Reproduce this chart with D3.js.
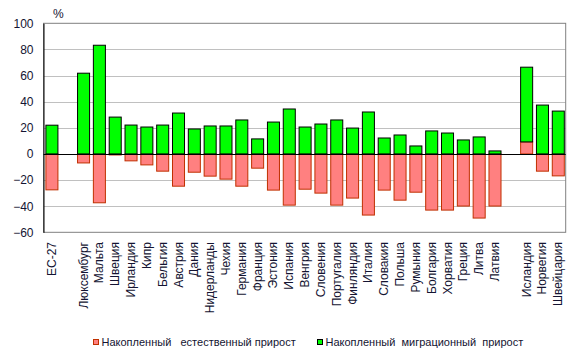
<!DOCTYPE html>
<html><head><meta charset="utf-8">
<script src="https://cdn.jsdelivr.net/npm/d3@7"></script>
<style>body{margin:0;background:#fff;} text{font-family:"Liberation Sans",Arial,sans-serif;}</style>
</head><body>
<svg id="c" width="578" height="355"></svg>
<script>
const categories = ["ЕС-27","","Люксембург","Мальта","Швеция","Ирландия","Кипр","Бельгия","Австрия","Дания","Нидерланды","Чехия","Германия","Франция","Эстония","Испания","Венгрия","Словения","Португалия","Финляндия","Италия","Словакия","Польша","Румыния","Болгария","Хорватия","Греция","Литва","Латвия","","Исландия","Норвегия","Швейцария"];
const naturalGrowth = [-27.5,null,-6.9,-37.4,-0.8,-5.3,-8.4,-13.2,-24.7,-14,-17,-19.3,-24.7,-10.9,-27.7,-39.2,-27,-30,-39.2,-33.8,-46.8,-27.7,-35.4,-29.3,-43,-43,-39.9,-49.1,-39.9,null,9.2,-13.2,-16.8];
const migrationGrowth = [22,null,61.8,83.2,28.2,22.1,20.6,22.1,31.3,19.1,21.4,21.4,26,11.5,24.4,34.4,20.6,22.9,26,19.8,32.1,12.2,14.5,6.1,17.6,16,10.7,13,2.3,null,57.2,37.4,32.8];
const yTicks = [100,80,60,40,20,0,-20,-40,-60];
const legendLabels = ["Накопленный   естественный прирост","Накопленный  миграционный  прирост"];

const svg = d3.select("#c");
const L=43.5, R=565.7, T=23.3, B=232.3;
const x = d3.scaleBand().domain(d3.range(categories.length)).range([L,R]).paddingInner(0.24).paddingOuter(0.12);
const y = d3.scaleLinear().domain([-60,100]).range([B,T]);
const txt = "#141432";

// gridlines
svg.append("g").selectAll("line").data(yTicks.filter(d=>d!==100&&d!==-60&&d!==0)).join("line")
  .attr("x1",L).attr("x2",R).attr("y1",d=>Math.round(y(d))+0.5).attr("y2",d=>Math.round(y(d))+0.5)
  .attr("stroke","#c0c0c0").attr("stroke-width",1);
// border
svg.append("rect").attr("x",L).attr("y",T).attr("width",R-L).attr("height",B-T).attr("fill","none").attr("stroke","#808080").attr("stroke-width",1);

// y axis
const yAxis = d3.axisLeft(y).tickValues(yTicks).tickSize(0).tickPadding(10);
const ga = svg.append("g").attr("transform",`translate(${L},0)`).call(yAxis);
ga.select(".domain").attr("stroke","#000");
ga.selectAll("text").attr("font-size",12).attr("fill",txt).attr("font-family","Liberation Sans, Arial, sans-serif");

svg.append("text").attr("x",53).attr("y",18).attr("font-size",12).attr("fill",txt).text("%");

const idx = d3.range(categories.length).filter(i=>naturalGrowth[i]!==null);
// natural bars
svg.append("g").selectAll("rect").data(idx).join("rect")
  .attr("x",i=>x(i)+0.5).attr("width",x.bandwidth())
  .attr("y",i=>y(Math.max(0,naturalGrowth[i]))).attr("height",i=>Math.abs(y(naturalGrowth[i])-y(0)))
  .attr("fill","#ff8080").attr("stroke","#c03000").attr("stroke-width",1);
// migration bars
svg.append("g").selectAll("rect").data(idx).join("rect")
  .attr("x",i=>x(i)+0.5).attr("width",x.bandwidth())
  .attr("y",i=>{const base=Math.max(0,naturalGrowth[i]);return y(base+migrationGrowth[i]);})
  .attr("height",i=>y(0)-y(migrationGrowth[i]))
  .attr("fill","#00ff00").attr("stroke","#000").attr("stroke-width",1);
// zero line
svg.append("line").attr("x1",L).attr("x2",R).attr("y1",Math.round(y(0))+0.5).attr("y2",Math.round(y(0))+0.5).attr("stroke","#000");

// category labels
svg.append("g").selectAll("text").data(idx).join("text")
  .attr("transform",i=>`translate(${x(i)+x.bandwidth()/2+4.5},242) rotate(-90)`)
  .attr("text-anchor","end").attr("font-size",12).attr("fill",txt).text(i=>categories[i]);

// legend
const lg = svg.append("g");
const lx=[93.5,317.5], lc=[["#ff8080","#c03000"],["#00ff00","#000"]];
legendLabels.forEach((t,k)=>{
  lg.append("rect").attr("x",lx[k]).attr("y",339.5).attr("width",5).attr("height",5).attr("fill",lc[k][0]).attr("stroke",lc[k][1]);
  lg.append("text").attr("x",lx[k]+8).attr("y",346).attr("font-size",11).attr("fill",txt).style("white-space","pre").text(t);
});
</script>
</body></html>
